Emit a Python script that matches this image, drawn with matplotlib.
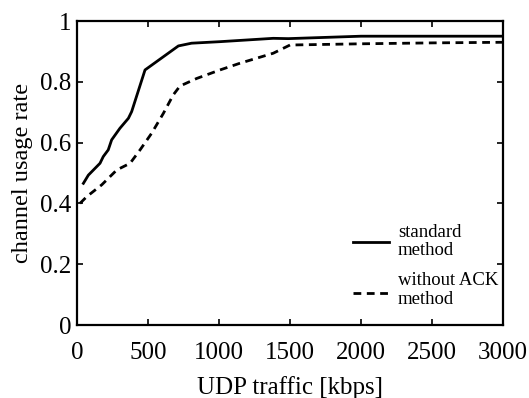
import matplotlib
matplotlib.use("Agg")
import matplotlib.pyplot as plt

# values
std_x = [45, 80, 162, 185, 220, 244, 302, 362, 385, 479, 714, 807, 1007, 1382, 1488, 2000, 2500, 3000]
std_y = [0.466, 0.493, 0.532, 0.554, 0.576, 0.609, 0.647, 0.680, 0.702, 0.839,
         0.918, 0.927, 0.932, 0.943, 0.942, 0.950, 0.950, 0.950]

noack_x = [21, 68, 174, 280, 374, 444, 526, 608, 678, 725, 843, 1007, 1147, 1382, 1500, 2000, 2500, 3000]
noack_y = [0.400, 0.422, 0.461, 0.510, 0.532, 0.576, 0.631, 0.696, 0.757, 0.786,
           0.811, 0.839, 0.861, 0.894, 0.921, 0.925, 0.928, 0.930]

x_ticks = [0, 500, 1000, 1500, 2000, 2500, 3000]
y_ticks = [0, 0.2, 0.4, 0.6, 0.8, 1]
y_tick_labels = ["0", "0.2", "0.4", "0.6", "0.8", "1"]

plt.rcParams['font.family'] = ['Liberation Serif', 'DejaVu Serif']

fig = plt.figure(figsize=(5.29, 3.98), dpi=100)
ax = fig.add_axes([77 / 529, 1 - 325 / 398, (503 - 77) / 529, (325 - 21) / 398])

dash = (0, (2.8, 2.0))
ax.plot(std_x, std_y, color='black', linewidth=2.0, linestyle='-')
ax.plot(noack_x, noack_y, color='black', linewidth=2.0, linestyle=dash)

ax.set_xlim(0, 3000)
ax.set_ylim(0, 1)
ax.set_xticks(x_ticks)
ax.set_yticks(y_ticks)
ax.set_yticklabels(y_tick_labels)
ax.tick_params(direction='in', top=True, right=True, length=4, width=1.2,
               labelsize=18)
ax.tick_params(axis='x', pad=12)
ax.tick_params(axis='y', pad=4)
for s in ax.spines.values():
    s.set_linewidth(1.6)

ax.set_xlabel("UDP traffic [kbps]", fontsize=18, labelpad=9)
ax.set_ylabel("channel usage rate", fontsize=17.5, labelpad=5)

# legend drawn by hand in axes coordinates
tr = ax.transAxes
ax.plot([0.648, 0.732], [0.274, 0.274], color='black', linewidth=2.0, transform=tr)
ax.plot([0.648, 0.732], [0.105, 0.105], color='black', linewidth=2.0,
        linestyle=dash, transform=tr)
ax.text(0.753, 0.305, "standard", fontsize=13.5, transform=tr, va='center')
ax.text(0.753, 0.245, "method", fontsize=13.5, transform=tr, va='center')
ax.text(0.753, 0.148, "without ACK", fontsize=13.5, transform=tr, va='center')
ax.text(0.753, 0.085, "method", fontsize=13.5, transform=tr, va='center')

fig.savefig("out.png", dpi=100)
